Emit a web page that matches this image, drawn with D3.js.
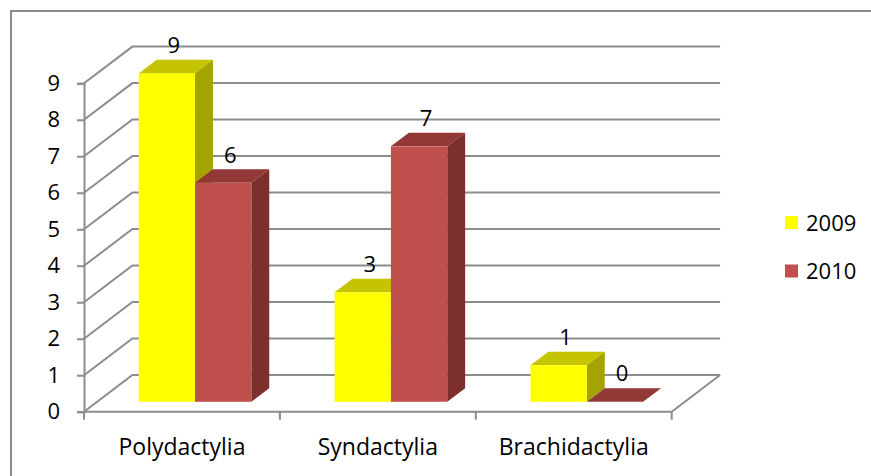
<!DOCTYPE html>
<html>
<head>
<meta charset="utf-8">
<script src="https://cdn.jsdelivr.net/npm/d3@7"></script>
<style>
  body { margin: 0; background: #fff; }
  text { font-family: "Open Sans", sans-serif; fill: #000; }
</style>
</head>
<body>
<svg id="chart" width="871" height="476"></svg>
<script>
// data
var categories = ["Polydactylia", "Syndactylia", "Brachidactylia"];
var seriesNames = ["2009", "2010"];
var values2009 = [9, 3, 1];
var values2010 = [6, 7, 0];
var yTicks = [0, 1, 2, 3, 4, 5, 6, 7, 8, 9];

var colors = {
  "2009": { front: "#ffff00", top: "#c4c400", side: "#a4a400" },
  "2010": { front: "#c0504d", top: "#923937", side: "#7c2f2d" }
};

var svg = d3.select("#chart");

// outer frame (only top and left edges show)
svg.append("path")
  .attr("d", "M11,476 L11,11 L871,11")
  .attr("fill", "none")
  .attr("stroke", "#8a8a8a")
  .attr("stroke-width", 2);

// plot box, front plane
var x0 = 84, x1 = 671.7;
var depth = { x: 48.4, y: -36.7 };   // floor depth vector
var barFront = 0.27, barDepth = 0.37; // fractions of depth

var y = d3.scaleLinear().domain([0, 9]).range([411.7, 83.3]);
var x = d3.scaleBand().domain(categories).range([x0, x1]).paddingInner(0.425).paddingOuter(0.2125);
var xs = d3.scaleBand().domain(seriesNames).range([0, x.bandwidth()]);

var gridColor = "#8c8c8c";

// back wall gridlines + left wall diagonals
var grid = svg.append("g").attr("stroke", gridColor).attr("stroke-width", 2).attr("fill", "none");
yTicks.forEach(function(t) {
  var yy = y(t);
  grid.append("path")
    .attr("d", "M" + x0 + "," + yy + " L" + (x0 + depth.x) + "," + (yy + depth.y) +
               " L" + (x1 + depth.x) + "," + (yy + depth.y));
});
// floor right edge and front edge
grid.append("path")
  .attr("d", "M" + x0 + "," + y(0) + " L" + x1 + "," + y(0) + " L" + (x1 + depth.x) + "," + (y(0) + depth.y));

// category ticks at boundaries
var bounds = [0, 1, 2, 3].map(function(i) { return x0 + i * x.step(); });
grid.selectAll(".ctick").data(bounds).join("line")
  .attr("x1", function(d) { return d; }).attr("x2", function(d) { return d; })
  .attr("y1", y(0)).attr("y2", y(0) + 8);

// value axis
var yAxis = svg.append("g")
  .attr("transform", "translate(" + x0 + ",0)")
  .call(d3.axisLeft(y).tickValues(yTicks).tickSize(7).tickPadding(17));
yAxis.select(".domain").attr("stroke", gridColor).attr("stroke-width", 2);
yAxis.selectAll(".tick line").attr("stroke", gridColor).attr("stroke-width", 2);
yAxis.selectAll(".tick text").attr("font-size", 22).attr("font-family", "Open Sans");

// category labels
svg.append("g").selectAll("text").data(categories).join("text")
  .attr("x", function(d, i) { return x0 + (i + 0.5) * x.step(); })
  .attr("y", 446.7)
  .attr("dy", "0.35em")
  .attr("text-anchor", "middle")
  .attr("font-size", 23)
  .text(function(d) { return d; });

// bars (3d boxes)
var bars = [];
categories.forEach(function(c, i) {
  bars.push({ cat: c, s: "2009", v: values2009[i] });
  bars.push({ cat: c, s: "2010", v: values2010[i] });
});

var fdx = depth.x * barFront, fdy = depth.y * barFront;
var bdx = depth.x * barDepth, bdy = depth.y * barDepth;

var barG = svg.append("g");
bars.forEach(function(b) {
  var left = x(b.cat) + xs(b.s) + fdx;
  var right = left + xs.bandwidth();
  var bottom = y(0) + fdy;
  var top = y(b.v) + fdy;
  var col = colors[b.s];
  var g = barG.append("g");
  // top face
  g.append("path")
    .attr("d", "M" + left + "," + top + " L" + (left + bdx) + "," + (top + bdy) +
               " L" + (right + bdx) + "," + (top + bdy) + " L" + right + "," + top + "Z")
    .attr("fill", col.top);
  // side face
  g.append("path")
    .attr("d", "M" + right + "," + top + " L" + (right + bdx) + "," + (top + bdy) +
               " L" + (right + bdx) + "," + (bottom + bdy) + " L" + right + "," + bottom + "Z")
    .attr("fill", col.side);
  // front face
  g.append("rect")
    .attr("x", left).attr("y", top)
    .attr("width", xs.bandwidth()).attr("height", bottom - top)
    .attr("fill", col.front);
  // value label
  svg.append("text")
    .attr("x", (left + right) / 2 + 7)
    .attr("y", top - 28)
    .attr("dy", "0.35em")
    .attr("text-anchor", "middle")
    .attr("font-size", 22)
    .text(b.v);
});

// legend
var legend = svg.append("g").selectAll("g").data(seriesNames).join("g")
  .attr("transform", function(d, i) { return "translate(785," + (216 + i * 48.5) + ")"; });
legend.append("rect").attr("width", 13).attr("height", 13)
  .attr("fill", function(d) { return colors[d].front; });
legend.append("text").attr("x", 21).attr("y", 7).attr("dy", "0.35em")
  .attr("font-size", 22).text(function(d) { return d; });
</script>
</body>
</html>
